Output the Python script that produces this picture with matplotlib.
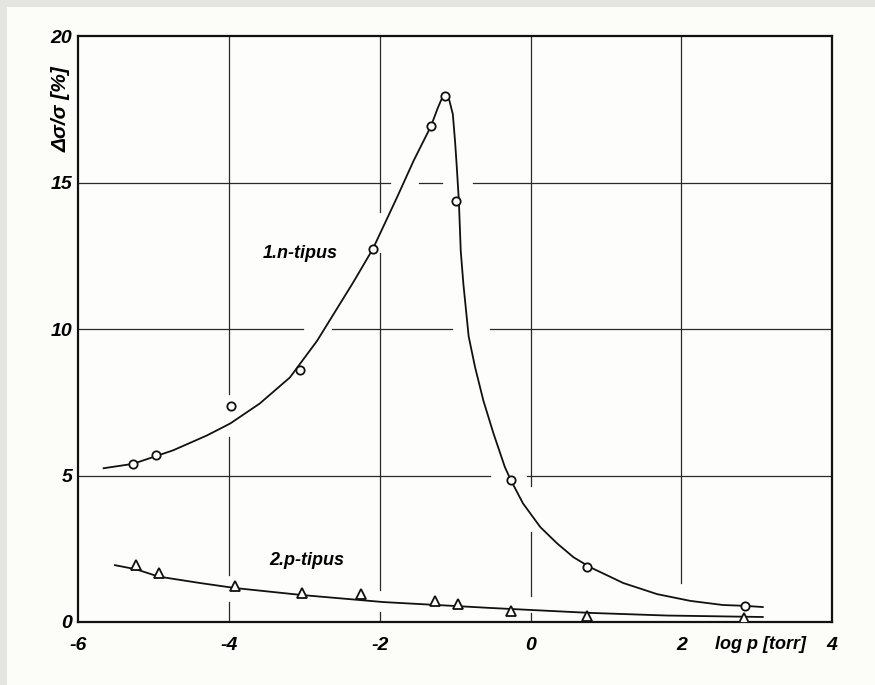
import matplotlib.pyplot as plt
from matplotlib.patches import Rectangle

# measured points, n-type sample
n_x = [-5.27, -4.97, -3.97, -3.06, -2.09, -1.32, -1.13, -0.99, -0.26, 0.75, 2.85]
n_y = [5.40, 5.70, 7.36, 8.59, 12.74, 16.93, 17.96, 14.38, 4.84, 1.87, 0.55]

# measured points, p-type sample
p_x = [-5.23, -4.93, -3.92, -3.03, -2.25, -1.27, -0.96, -0.26, 0.75, 2.83]
p_y = [1.95, 1.68, 1.22, 1.00, 0.95, 0.72, 0.62, 0.38, 0.19, 0.15]

# hand-drawn fitted curves
n_curve_x = [-5.66, -5.27, -4.74, -4.29, -3.98, -3.59, -3.19, -2.83, -2.53, -2.35,
             -2.09, -1.77, -1.55, -1.32, -1.23, -1.18, -1.13, -1.08, -1.03, -1.00,
             -0.98, -0.95, -0.925, -0.89, -0.82, -0.735, -0.625, -0.49, -0.34, -0.26,
             -0.10, 0.13, 0.35, 0.57, 0.79, 1.23, 1.68, 2.12, 2.55, 2.85, 3.08]
n_curve_y = [5.25, 5.40, 5.86, 6.37, 6.78, 7.46, 8.35, 9.60, 10.85, 11.60,
             12.74, 14.50, 15.75, 16.93, 17.55, 17.85, 18.00, 17.85, 17.34, 16.40,
             15.64, 14.38, 12.67, 11.54, 9.75, 8.70, 7.56, 6.43, 5.29, 4.84,
             4.05, 3.24, 2.69, 2.21, 1.87, 1.33, 0.95, 0.72, 0.58, 0.55, 0.51]

p_curve_x = [-5.51, -5.23, -4.93, -4.38, -3.92, -3.03, -1.95, -0.96, -0.54, 0.79, 1.81, 2.83, 3.08]
p_curve_y = [1.94, 1.80, 1.55, 1.33, 1.16, 0.92, 0.68, 0.54, 0.48, 0.31, 0.22, 0.18, 0.17]

x_ticks = [-6, -4, -2, 0, 2, 4]
y_ticks = [0, 5, 10, 15, 20]

# breaks left in the hand-ruled grid lines
h_gaps = {15: [(-1.86, -1.48), (-1.17, -0.76)],
          10: [(-3.02, -2.63), (-1.04, -0.54)],
          5: [(-0.54, -0.05)]}
v_gaps = {-4: [(0.68, 1.6), (6.3, 7.8)],
          -2: [(0.35, 1.1), (12.6, 14.0)],
          0: [(0.3, 0.9), (3.07, 4.63)],
          2: [(0.0, 1.33)]}

font = dict(family='Liberation Sans', weight='bold', style='italic')

fig = plt.figure(figsize=(8.75, 6.85), dpi=100, facecolor='#e4e4e1')
fig.patches.append(Rectangle((0.008, 0), 1, 0.99, transform=fig.transFigure,
                             facecolor='#fcfcf9', edgecolor='none', zorder=-10))
ax = fig.add_axes([0.0891, 0.092, 0.862, 0.855])
ax.set_zorder(1)
ax.set_facecolor('#fdfdfb')
ax.set_xlim(-6, 4)
ax.set_ylim(0, 20)


def segments(lo, hi, gaps):
    segs, start = [], lo
    for a, b in gaps:
        segs.append((start, a))
        start = b
    segs.append((start, hi))
    return segs


for yv in [5, 10, 15]:
    for a, b in segments(-6, 4, h_gaps.get(yv, [])):
        ax.plot([a, b], [yv, yv], color='#2a2a2a', lw=0.9, zorder=1)
for xv in [-4, -2, 0, 2]:
    for a, b in segments(0, 20, v_gaps.get(xv, [])):
        ax.plot([xv, xv], [a, b], color='#2a2a2a', lw=0.9, zorder=1)

ax.plot(n_curve_x, n_curve_y, color='#111111', lw=1.3, zorder=2, solid_joinstyle='round')
ax.plot(p_curve_x, p_curve_y, color='#111111', lw=1.3, zorder=2, solid_joinstyle='round')
ax.plot(n_x, n_y, 'o', ms=6, mfc='white', mec='#111111', mew=1.3, zorder=3)
ax.plot(p_x, p_y, '^', ms=6.5, mfc='white', mec='#111111', mew=1.3, zorder=3)

ax.text(-3.06, 12.6, '1.n-tipus', ha='center', va='center', fontsize=13, **font)
ax.text(-2.96, 2.1, '2.p-tipus', ha='center', va='center', fontsize=13, **font)

for s in ax.spines.values():
    s.set_linewidth(1.6)
    s.set_color('#111111')

ax.set_xticks(x_ticks)
ax.set_yticks(y_ticks)
ax.set_xticklabels([str(v) for v in x_ticks], fontsize=14, **font)
ax.set_yticklabels([str(v) for v in y_ticks], fontsize=14, **font)
ax.tick_params(axis='x', length=0, pad=11)
ax.tick_params(axis='y', length=0, pad=4)

ax.text(3.05, -0.039, 'log p [torr]', transform=ax.get_xaxis_transform(),
        ha='center', va='center', fontsize=13, **font)
ax.text(-0.01, 17.5, 'Δσ/σ [%]', transform=ax.get_yaxis_transform(),
        ha='right', va='center', rotation=90, fontsize=15, **font)

fig.savefig('out.png', dpi=100, facecolor=fig.get_facecolor())
